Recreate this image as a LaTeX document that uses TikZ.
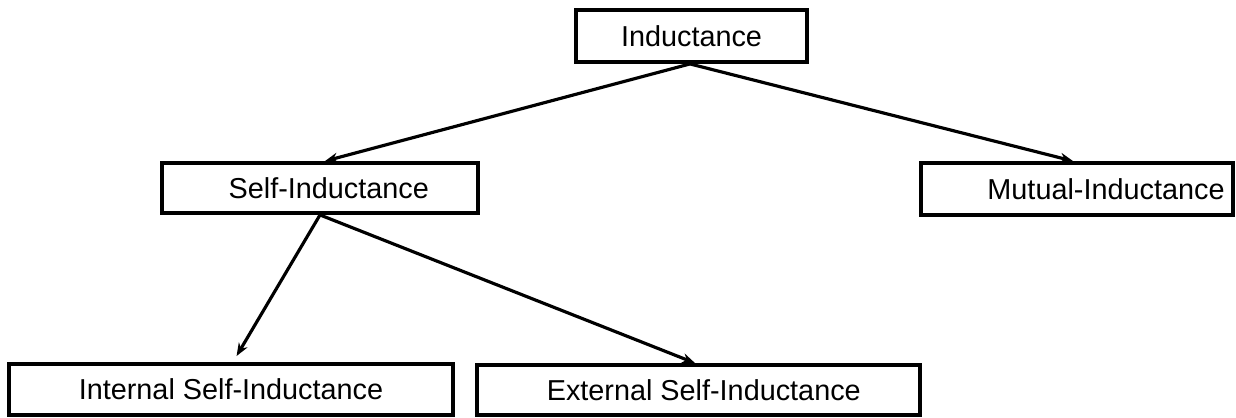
\documentclass[tikz,border=0pt]{standalone}
\usepackage{fontspec}
\setmainfont{Liberation Sans}
\usetikzlibrary{arrows.meta}
\tikzset{box/.style={draw, line width=2.2pt, minimum height=1cm, inner sep=0pt,
    font=\fontsize{16.4}{19.7}\selectfont}}
\tikzset{arr/.style={-{Stealth[length=0.26cm, width=0.2cm]}, line width=1.8pt}}

\begin{document}
\begin{tikzpicture}
\useasboundingbox (0,0) rectangle (24.72,8.34);
\node [box, minimum width=4.62cm, minimum height=1.04cm] (ind) at (13.83,7.62) {Inductance};
\node [box, minimum width=6.32cm] (self) at (6.40,4.58) {\hspace*{10pt}Self-Inductance};
\node [box, minimum width=6.24cm, minimum height=1.04cm] (mut) at (21.54,4.56) {\hspace*{33pt}Mutual-Inductance};
\node [box, minimum width=8.88cm, minimum height=1.02cm] (int) at (4.62,0.55) {Internal Self-Inductance};
\node [box, minimum width=8.86cm] (ext) at (13.97,0.54) {\hspace*{6pt}External Self-Inductance};
\draw [arr] ([xshift=-0.03cm]ind.south) -- ([xshift=0.1cm]self.north);
\draw [arr] ([xshift=-0.03cm]ind.south) -- ([xshift=-0.08cm]mut.north);
\draw [arr, shorten >=0.14cm] (self.south) -- ([xshift=0.04cm]int.north);
\draw [arr] (self.south) -- ([xshift=-0.07cm]ext.north);
\end{tikzpicture}
\end{document}
